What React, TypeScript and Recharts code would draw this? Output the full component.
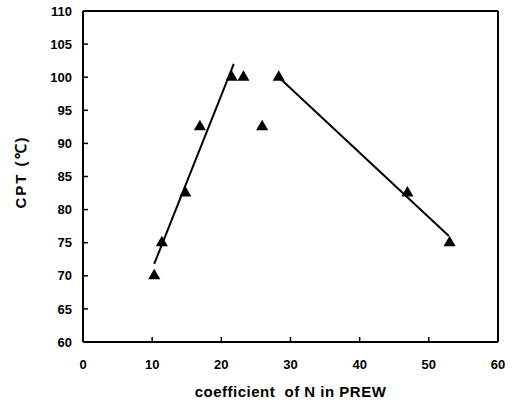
import { ComposedChart, Scatter, XAxis, YAxis, ReferenceLine } from 'recharts';

// measured samples (coefficient of N in PREW vs CPT)
const prew = [10.3, 11.4, 14.8, 16.9, 21.5, 23.2, 25.9, 28.3, 46.9, 53.0];
const cpt = [70, 75, 82.5, 92.5, 100, 100, 92.5, 100, 82.5, 75];

// the two fitted lines
const fitLowX = [10.3, 21.8];
const fitLowY = [71.8, 102];
const fitHighX = [28.3, 52.9];
const fitHighY = [100, 76];

const xTicks = [0, 10, 20, 30, 40, 50, 60];
const yTicks = [60, 65, 70, 75, 80, 85, 90, 95, 100, 105, 110];

const points = prew.map((x, i) => ({ x, y: cpt[i] }));
const lowFit = fitLowX.map((x, i) => ({ x, y: fitLowY[i] }));
const highFit = fitHighX.map((x, i) => ({ x, y: fitHighY[i] }));

const font = 'Arial, "Liberation Sans", sans-serif';
const tickStyle = { fontSize: 13, fontWeight: 700, fill: '#000', fontFamily: font };

const YLabel = () => (
  <text
    x={20}
    y={172}
    transform="rotate(-90 20 172)"
    textAnchor="middle"
    dominantBaseline="central"
    fontSize={15}
    fontWeight={700}
    fontFamily={font}
    letterSpacing={2}
    fill="#000"
  >
    CPT (℃)
  </text>
);

export default function App() {
  return (
    <div style={{ position: 'absolute', left: 0, top: 0, background: '#fff' }}>
      <ComposedChart
        width={516}
        height={407}
        margin={{ top: 11, right: 18, bottom: 0, left: 0 }}
      >
        <XAxis
          type="number"
          dataKey="x"
          domain={[0, 60]}
          ticks={xTicks}
          height={65}
          tick={tickStyle}
          tickSize={-5}
          tickMargin={23}
          axisLine={{ stroke: '#000', strokeWidth: 2 }}
          tickLine={{ stroke: '#000', strokeWidth: 1.5 }}
          label={{
            value: 'coefficient\u00a0 of N in PREW',
            position: 'insideBottom',
            offset: 10,
            style: { fontSize: 15, fontWeight: 700, fill: '#000', fontFamily: font, letterSpacing: 0.5 },
          }}
        />
        <YAxis
          type="number"
          dataKey="y"
          domain={[60, 110]}
          ticks={yTicks}
          width={83}
          tick={tickStyle}
          tickSize={-5}
          tickMargin={16}
          axisLine={{ stroke: '#000', strokeWidth: 2 }}
          tickLine={{ stroke: '#000', strokeWidth: 1.5 }}
          label={{ content: () => <YLabel /> }}
        />
        <ReferenceLine y={110} stroke="#000" strokeWidth={2} />
        <ReferenceLine x={60} stroke="#000" strokeWidth={2} />
        <Scatter
          data={lowFit}
          line={{ stroke: '#000', strokeWidth: 2 }}
          shape={() => <g />}
          isAnimationActive={false}
        />
        <Scatter
          data={highFit}
          line={{ stroke: '#000', strokeWidth: 2 }}
          shape={() => <g />}
          isAnimationActive={false}
        />
        <Scatter
          data={points}
          fill="#000"
          shape="triangle"
          size={72}
          isAnimationActive={false}
        />
      </ComposedChart>
    </div>
  );
}
